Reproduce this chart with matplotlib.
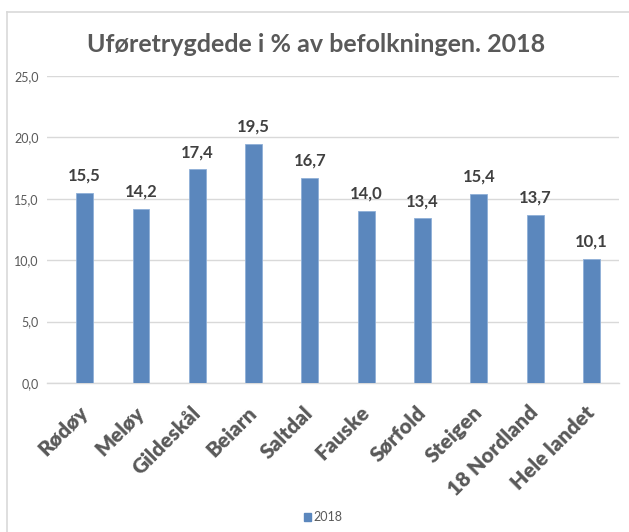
import matplotlib
matplotlib.use("Agg")
import matplotlib.pyplot as plt
from matplotlib.lines import Line2D
from matplotlib.patches import Patch

categories = ["Rødøy", "Meløy", "Gildeskål", "Beiarn", "Saltdal", "Fauske",
              "Sørfold", "Steigen", "18 Nordland", "Hele landet"]
values = [15.5, 14.2, 17.4, 19.5, 16.7, 14.0, 13.4, 15.4, 13.7, 10.1]
yticks = [0, 5, 10, 15, 20, 25]
title = "Uføretrygdede i % av befolkningen. 2018"
series_name = "2018"

bar_color = "#5B87BD"
text_color = "#595959"
grid_color = "#D9D9D9"

plt.rcParams["font.family"] = ["Lato", "DejaVu Sans"]

W, H = 629, 532
fig = plt.figure(figsize=(W / 100, H / 100), dpi=100)

# chart area frame (top and left edges)
fig.add_artist(Line2D([7 / W, 1], [1 - 12 / H, 1 - 12 / H], color=grid_color, lw=1.2))
fig.add_artist(Line2D([7 / W, 7 / W], [0, 1 - 12 / H], color=grid_color, lw=1.2))

left, right = 47, 619
top, bottom = 76, 383
ax = fig.add_axes([left / W, 1 - bottom / H, (right - left) / W, (bottom - top) / H])

x = list(range(len(categories)))
ax.bar(x, values, width=0.30, color=bar_color, edgecolor="#8FB0D8", linewidth=0.6, zorder=3)
ax.set_xlim(-0.67, 9.49)
ax.set_ylim(0, 25)

for xi, v in zip(x, values):
    ax.text(xi, v + 0.75, f"{v:.1f}".replace(".", ","), ha="center", va="bottom",
            fontsize=12, fontweight="bold", color="#404040")

ax.set_yticks(yticks)
ax.set_yticklabels([f"{t:.1f}".replace(".", ",") for t in yticks], fontsize=9, color=text_color)
ax.yaxis.grid(True, color=grid_color, linewidth=1.0, zorder=0)
ax.tick_params(axis="y", length=0, pad=6)
ax.tick_params(axis="x", length=0, pad=19)
ax.set_xticks(x)
ax.set_xticklabels(categories, rotation=45, ha="right", va="center", rotation_mode="anchor",
                   fontsize=15, fontweight="heavy", color=text_color)
for s in ["top", "right", "left"]:
    ax.spines[s].set_visible(False)
ax.spines["bottom"].set_color(grid_color)
ax.spines["bottom"].set_linewidth(1.0)

fig.text(316 / W, 1 - 45 / H, title, ha="center", va="center",
         fontsize=18, fontweight="bold", color=text_color)

fig.legend(handles=[Patch(facecolor=bar_color, edgecolor=bar_color, label=series_name)],
           loc="center", bbox_to_anchor=(323 / W, 1 - 517 / H), frameon=False,
           fontsize=9, handlelength=0.6, handleheight=0.6, handletextpad=0.2,
           labelcolor=text_color)

fig.savefig("out.png", dpi=100, facecolor="white")
